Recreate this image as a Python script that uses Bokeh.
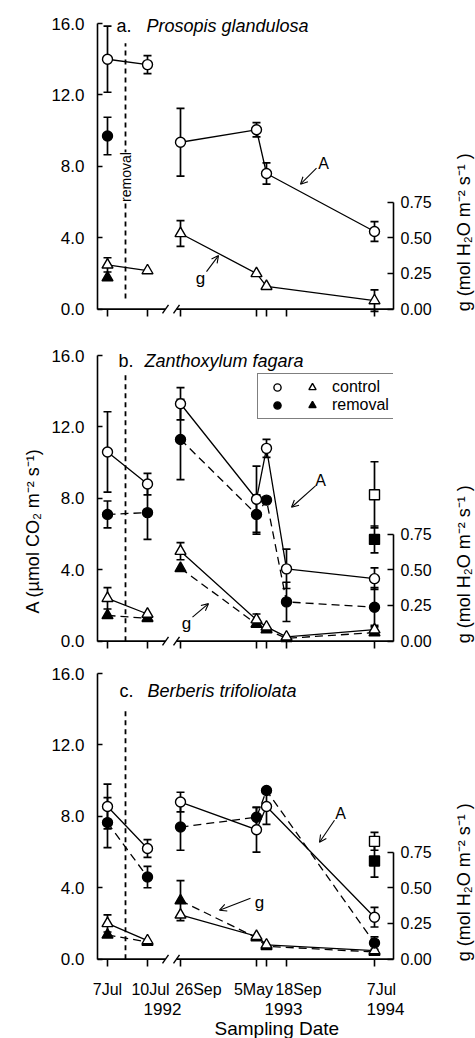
import math
from math import pi
import numpy as np
from bokeh.plotting import figure
from bokeh.models import (Range1d, LinearAxis, FixedTicker, NumeralTickFormatter, Whisker,
                          TeeHead, ColumnDataSource, Arrow, OpenHead, Label, Legend, LegendItem,
                          Title)
from bokeh.core.properties import value
from bokeh.layouts import column, row
from bokeh.embed import file_html
from bokeh.resources import INLINE

nan = float("nan")

# ---------------- sampling dates on a broken time axis ----------------
DATES = ["7 Jul 1992", "10 Jul 1992", "26 Sep 1992", "5 May 1993", "mid 1993", "18 Sep 1993", "7 Jul 1994"]
DATE_POS = [10, 50, 83, 159, 169, 189, 277]      # axis coordinate of each sampling date
BREAK_AFTER = "10 Jul 1992"                       # the axis is broken after this date
REMOVAL_POS = 28                                  # shrub removal (between 7 and 10 Jul 1992)

DATE_LABELS = ["7Jul", "10Jul", "26Sep", "5May", "18Sep", "7Jul"]
DATE_LABEL_POS = [10, 53, 101, 156, 201, 284]
YEAR_LABELS = ["1992", "1993", "1994"]
YEAR_LABEL_POS = [65, 186, 288]
A_TICKS = [0, 4, 8, 12, 16]
G_TICKS = [0, 0.25, 0.5, 0.75]

# ---------------- a. Prosopis glandulosa ----------------
PG_A_CTRL = [14.0, 13.7, 9.35, 10.05, 7.6, nan, 4.35]
PG_A_CTRL_SE = [1.85, 0.5, 1.9, 0.4, 0.6, nan, 0.55]
PG_A_REM = [9.7, nan, nan, nan, nan, nan, nan]
PG_A_REM_SE = [1.05, nan, nan, nan, nan, nan, nan]
PG_G_CTRL = [0.31, 0.27, 0.53, 0.25, 0.16, nan, 0.06]
PG_G_CTRL_SE = [0.05, nan, 0.09, nan, nan, nan, 0.075]
PG_G_REM = [0.22, nan, nan, nan, nan, nan, nan]
PG_G_REM_SE = [nan, nan, nan, nan, nan, nan, nan]

# ---------------- b. Zanthoxylum fagara ----------------
ZF_A_CTRL = [10.6, 8.8, 13.3, 7.95, 10.8, 4.05, 3.5]
ZF_A_CTRL_SE = [2.25, 0.6, 0.9, 1.85, 0.5, 1.1, 0.6]
ZF_A_REM = [7.1, 7.2, 11.3, 7.1, 7.9, 2.2, 1.9]
ZF_A_REM_SE = [0.75, 1.5, 2.25, 1.1, nan, 1.1, 1.1]
ZF_G_CTRL = [0.30, 0.19, 0.63, 0.15, 0.10, 0.03, 0.08]
ZF_G_CTRL_SE = [0.075, nan, 0.06, 0.04, nan, nan, 0.03]
ZF_G_REM = [0.18, 0.16, 0.51, 0.12, 0.08, 0.02, 0.06]
ZF_G_REM_SE = [nan, nan, nan, nan, nan, nan, nan]
ZF_SQ_DATE = "7 Jul 1994"          # second set of measurements (squares)
ZF_SQ_CTRL, ZF_SQ_CTRL_SE = 8.2, 1.85
ZF_SQ_REM, ZF_SQ_REM_SE = 5.7, 0.75

# ---------------- c. Berberis trifoliolata ----------------
BT_A_CTRL = [8.55, 6.2, 8.8, 7.25, 8.55, nan, 2.35]
BT_A_CTRL_SE = [1.25, 0.5, 0.55, 1.25, 1.0, nan, 0.55]
BT_A_REM = [7.65, 4.6, 7.4, 7.95, 9.45, nan, 0.9]
BT_A_REM_SE = [1.4, 0.6, 1.3, 0.55, nan, nan, 0.35]
BT_G_CTRL = [0.25, 0.13, 0.31, 0.16, 0.10, nan, 0.06]
BT_G_CTRL_SE = [0.06, nan, nan, nan, nan, nan, nan]
BT_G_REM = [0.17, 0.12, 0.41, 0.15, 0.09, nan, 0.05]
BT_G_REM_SE = [nan, nan, 0.14, nan, nan, nan, nan]
BT_SQ_DATE = "7 Jul 1994"
BT_SQ_CTRL, BT_SQ_CTRL_SE = 6.6, 0.5
BT_SQ_REM, BT_SQ_REM_SE = 5.5, 0.9

G_LABEL = "g (mol H\u2082O m\u207b\u00b2 s\u207b\u00b9 )"
A_LABEL = "A (\u00b5mol CO\u2082 m\u207b\u00b2 s\u207b\u00b9)"

FONT = "Liberation Sans"
INK = "black"
PX = 17.85            # pixels per A unit
Y0 = -0.3             # bottom of the frame, a little under the x axis line
POS = dict(zip(DATES, DATE_POS))
SEG = [0 if i <= DATES.index(BREAK_AFTER) else 1 for i in range(len(DATES))]

FRAME_H = (314, 301, 296)
BORDER_T = (0, 8, 12)
BORDER_B = (23, 10, 40)


def line_xy(vals):
    xs, ys, prev = [], [], None
    for x, v, s in zip(DATE_POS, vals, SEG):
        if math.isnan(v):
            continue
        if prev is not None and s != prev:
            xs.append(nan)
            ys.append(nan)
        xs.append(x)
        ys.append(v)
        prev = s
    return np.array(xs, dtype=float), np.array(ys, dtype=float)


def add_line(p, vals, dashed, rng="default"):
    xs, ys = line_xy(vals)
    if np.count_nonzero(~np.isnan(ys)) < 2:
        return
    p.line(xs, ys, line_color=INK, line_width=1.3,
           line_dash="8 5" if dashed else "solid", y_range_name=rng)


def add_pts(p, xs_all, vals, marker, filled, rng="default", size=10):
    xs = [x for x, v in zip(xs_all, vals) if not math.isnan(v)]
    ys = [v for v in vals if not math.isnan(v)]
    return p.scatter(xs, ys, marker=marker, size=size, line_color=INK, line_width=1.4,
                     fill_color=INK if filled else "white", y_range_name=rng)


def add_err(p, xs_all, vals, se, rng="default"):
    xs, lo, hi = [], [], []
    for x, v, e in zip(xs_all, vals, se):
        if math.isnan(v) or math.isnan(e):
            continue
        xs.append(x)
        lo.append(v - e)
        hi.append(v + e)
    if not xs:
        return
    src = ColumnDataSource(dict(x=xs, lo=lo, hi=hi))
    w = Whisker(source=src, base="x", lower="lo", upper="hi", dimension="height",
                line_color=INK, line_width=1.7, level="underlay", y_range_name=rng,
                upper_head=TeeHead(size=8, line_width=1.7, line_color=INK),
                lower_head=TeeHead(size=8, line_width=1.7, line_color=INK))
    p.add_layout(w)


def text(p, x, y, s, size="16px", align="center", baseline="alphabetic", angle=0.0,
         style="normal", bg=None):
    lab = Label(x=x, y=y, text=s, text_font=FONT, text_font_size=size, text_color=INK,
                text_align=align, text_baseline=baseline, angle=angle, text_font_style=style,
                background_fill_color=bg)
    p.add_layout(lab)


def arrow(p, x0, y0, x1, y1):
    p.add_layout(Arrow(x_start=x0, y_start=y0, x_end=x1, y_end=y1, line_color=INK, line_width=1.1,
                       end=OpenHead(size=7, line_color=INK, line_width=1.1)))


def label_axis(ticks, labels, standoff, size):
    return LinearAxis(ticker=FixedTicker(ticks=ticks, minor_ticks=[]),
                      major_label_overrides=dict(zip(ticks, labels)),
                      axis_line_color=None, major_tick_line_color=None, minor_tick_line_color=None,
                      major_tick_out=0, major_tick_in=0, minor_tick_out=0, minor_tick_in=0,
                      major_label_standoff=standoff, major_label_text_font=FONT,
                      major_label_text_font_size=size, major_label_text_color=INK)


def make_panel(i, letter, species, A_ctrl, A_ctrl_se, A_rem, A_rem_se, g_ctrl, g_ctrl_se, g_rem,
               g_rem_se, title_y, rem_y, A_lab, g_lab, sq=None):
    frame_h = FRAME_H[i]
    y_end = Y0 + frame_h / PX
    p = figure(frame_width=296, frame_height=frame_h, x_range=Range1d(0, 296),
               y_range=Range1d(Y0, y_end), output_backend="svg", toolbar_location=None, title=None,
               min_border_left=97, min_border_right=55, min_border_top=BORDER_T[i],
               min_border_bottom=BORDER_B[i], background_fill_color="white",
               border_fill_color="white", outline_line_color=None)
    p.extra_y_ranges = {"g": Range1d(Y0 / 8.0, y_end / 8.0)}
    p.xgrid.visible = False
    p.ygrid.visible = False

    ya = p.yaxis[0]
    ya.ticker = FixedTicker(ticks=A_TICKS, minor_ticks=[])
    ya.formatter = NumeralTickFormatter(format="0.0")
    ya.bounds = (0, 16)
    ya.major_tick_in = 5
    ya.major_tick_out = 0
    ya.minor_tick_in = 0
    ya.minor_tick_out = 0
    ya.minor_tick_line_color = None
    ya.axis_line_width = 1.6
    ya.major_tick_line_width = 1.6
    ya.major_label_standoff = 13
    ya.major_label_text_font = FONT
    ya.major_label_text_font_size = "17px"
    ya.major_label_text_color = INK

    ra = LinearAxis(y_range_name="g", ticker=FixedTicker(ticks=G_TICKS, minor_ticks=[]),
                    formatter=NumeralTickFormatter(format="0.00"), bounds=(0, 0.75),
                    major_tick_in=6, major_tick_out=0, minor_tick_in=0, minor_tick_out=0,
                    minor_tick_line_color=None,
                    axis_line_width=1.6, major_tick_line_width=1.6, major_label_standoff=7,
                    major_label_text_font=FONT, major_label_text_font_size="16px",
                    major_label_text_color=INK)
    p.add_layout(ra, "right")

    xa = p.xaxis[0]
    xa.ticker = FixedTicker(ticks=DATE_POS, minor_ticks=[])
    xa.major_label_overrides = {v: "" for v in DATE_POS}
    xa.major_label_text_font_size = "1px"
    xa.major_label_standoff = 0
    xa.axis_line_color = None
    xa.major_tick_out = 2
    xa.major_tick_in = 5
    xa.minor_tick_in = 0
    xa.minor_tick_out = 0
    xa.major_tick_line_width = 1.6
    xa.minor_tick_line_color = None

    # broken x-axis line
    for x0, x1 in [(0, 68), (79, 296)]:
        p.add_layout(Arrow(start=None, end=None, x_start=x0, y_start=0, x_end=x1, y_end=0,
                           line_color=INK, line_width=1.6))
    for xc in (68, 79):
        p.add_layout(Arrow(start=None, end=None, x_start=xc - 3, y_start=-0.24, x_end=xc + 3,
                           y_end=0.24, line_color=INK, line_width=1.4))

    # removal date
    p.segment(x0=[REMOVAL_POS], y0=[rem_y[0]], x1=[REMOVAL_POS], y1=[rem_y[1]],
              line_color=INK, line_width=1.8, line_dash="5 4")

    # error bars
    add_err(p, DATE_POS, A_rem, A_rem_se)
    add_err(p, DATE_POS, A_ctrl, A_ctrl_se)
    add_err(p, DATE_POS, g_rem, g_rem_se, "g")
    add_err(p, DATE_POS, g_ctrl, g_ctrl_se, "g")
    if sq is not None:
        d, c, cse, r, rse = sq
        add_err(p, [POS[d]], [c], [cse])
        add_err(p, [POS[d]], [r], [rse])

    # lines
    add_line(p, A_rem, True)
    add_line(p, A_ctrl, False)
    add_line(p, g_rem, True, "g")
    add_line(p, g_ctrl, False, "g")

    # markers
    r_ft = add_pts(p, DATE_POS, g_rem, "triangle", True, "g", 11)
    r_ot = add_pts(p, DATE_POS, g_ctrl, "triangle", False, "g", 11)
    r_fc = add_pts(p, DATE_POS, A_rem, "circle", True)
    r_oc = add_pts(p, DATE_POS, A_ctrl, "circle", False)
    if sq is not None:
        d, c, cse, r, rse = sq
        add_pts(p, [POS[d]], [r], "square", True, size=10)
        add_pts(p, [POS[d]], [c], "square", False, size=10)

    # titles and annotations
    text(p, title_y[0], title_y[2], letter, size="18px", align="left")
    text(p, title_y[1], title_y[2], species, size="18px", align="left", style="italic")
    (ax, ay), (a0, a1, a2, a3) = A_lab
    text(p, ax, ay, "A", size="16px")
    arrow(p, a0, a1, a2, a3)
    (gx, gy), (g0, g1, g2, g3) = g_lab
    text(p, gx, gy, "g", size="17px")
    arrow(p, g0, g1, g2, g3)
    return p, (r_oc, r_ot, r_fc, r_ft)


pa, _ = make_panel(0, "a.", "Prosopis glandulosa", PG_A_CTRL, PG_A_CTRL_SE, PG_A_REM, PG_A_REM_SE,
                   PG_G_CTRL, PG_G_CTRL_SE, PG_G_REM, PG_G_REM_SE,
                   title_y=(19, 49, 15.85), rem_y=(0.6, 14.9),
                   A_lab=((226, 8.18), (219, 7.9, 203, 7.0)),
                   g_lab=((103, 1.74), (109, 2.1, 121, 3.0)))
text(pa, REMOVAL_POS, 7.4, "removal", size="14px", baseline="middle", angle=pi / 2, bg="white")

pb, (r_oc, r_ot, r_fc, r_ft) = make_panel(
    1, "b.", "Zanthoxylum fagara", ZF_A_CTRL, ZF_A_CTRL_SE, ZF_A_REM, ZF_A_REM_SE,
    ZF_G_CTRL, ZF_G_CTRL_SE, ZF_G_REM, ZF_G_REM_SE,
    title_y=(21, 47, 15.7), rem_y=(0.0, 14.9),
    A_lab=((223, 9.0), (218, 8.7, 194, 7.5)),
    g_lab=((89, 1.0), (95, 1.35, 111, 2.1)),
    sq=(ZF_SQ_DATE, ZF_SQ_CTRL, ZF_SQ_CTRL_SE, ZF_SQ_REM, ZF_SQ_REM_SE))
pb.add_layout(Title(text=A_LABEL, align="left", offset=33, vertical_align="middle", standoff=10,
                    text_font=FONT, text_font_size="18px", text_font_style="normal",
                    text_color=INK), "left")
legend = Legend(items=[LegendItem(label="", renderers=[r_oc]),
                       LegendItem(label="control", renderers=[r_ot]),
                       LegendItem(label="", renderers=[r_fc]),
                       LegendItem(label="removal", renderers=[r_ft])],
                orientation="horizontal", nrows=2, ncols=2, location=(160, 227),
                glyph_width=30, glyph_height=18, label_width=0, label_height=18,
                label_standoff=5, spacing=0, padding=4, margin=0,
                border_line_color=INK, border_line_width=1.2,
                background_fill_color="white", background_fill_alpha=1.0,
                label_text_font=FONT, label_text_font_size="16px",
                label_text_baseline="middle", label_text_color=INK)
pb.add_layout(legend)

pc, _ = make_panel(2, "c.", "Berberis trifoliolata", BT_A_CTRL, BT_A_CTRL_SE, BT_A_REM, BT_A_REM_SE,
                   BT_G_CTRL, BT_G_CTRL_SE, BT_G_REM, BT_G_REM_SE,
                   title_y=(22, 50, 15.0), rem_y=(0.0, 14.0),
                   A_lab=((243, 8.17), (237, 7.78, 222, 6.55)),
                   g_lab=((162, 3.19), (153, 3.41, 122, 2.74)),
                   sq=(BT_SQ_DATE, BT_SQ_CTRL, BT_SQ_CTRL_SE, BT_SQ_REM, BT_SQ_REM_SE))
pc.add_layout(label_axis(DATE_LABEL_POS, DATE_LABELS, 14, "16px"), "below")
pc.add_layout(label_axis(YEAR_LABEL_POS, YEAR_LABELS, 2, "17px"), "below")
pc.add_layout(Title(text="Sampling Date", align="left", offset=117, vertical_align="top", standoff=0,
                    text_font=FONT, text_font_size="19px", text_font_style="normal",
                    text_color=INK), "below")

# strip to the right of the panels holding the g axis titles (they read bottom to top)
STRIP_H = 1030
frame_bottoms = []
top = 0
for i in range(3):
    frame_bottoms.append(top + BORDER_T[i] + FRAME_H[i])
    top += BORDER_T[i] + FRAME_H[i] + BORDER_B[i]
label_starts = [b + Y0 * PX + 2 for b in frame_bottoms]
strip = figure(width=27, height=STRIP_H, x_range=Range1d(0, 27), y_range=Range1d(STRIP_H, 0),
               output_backend="svg", toolbar_location=None, title=None, min_border=0,
               x_axis_type=None, y_axis_type=None, outline_line_color=None,
               background_fill_color="white", border_fill_color="white")
strip.xgrid.visible = False
strip.ygrid.visible = False
strip.text(x=[15] * 3, y=label_starts, text=[G_LABEL] * 3, angle=pi / 2, text_align="left",
           text_baseline="middle", text_font=value(FONT), text_font_size="18px", text_color=INK)

layout = row(column(pa, pb, pc), strip)
open("out.html", "w").write(file_html(layout, INLINE))
